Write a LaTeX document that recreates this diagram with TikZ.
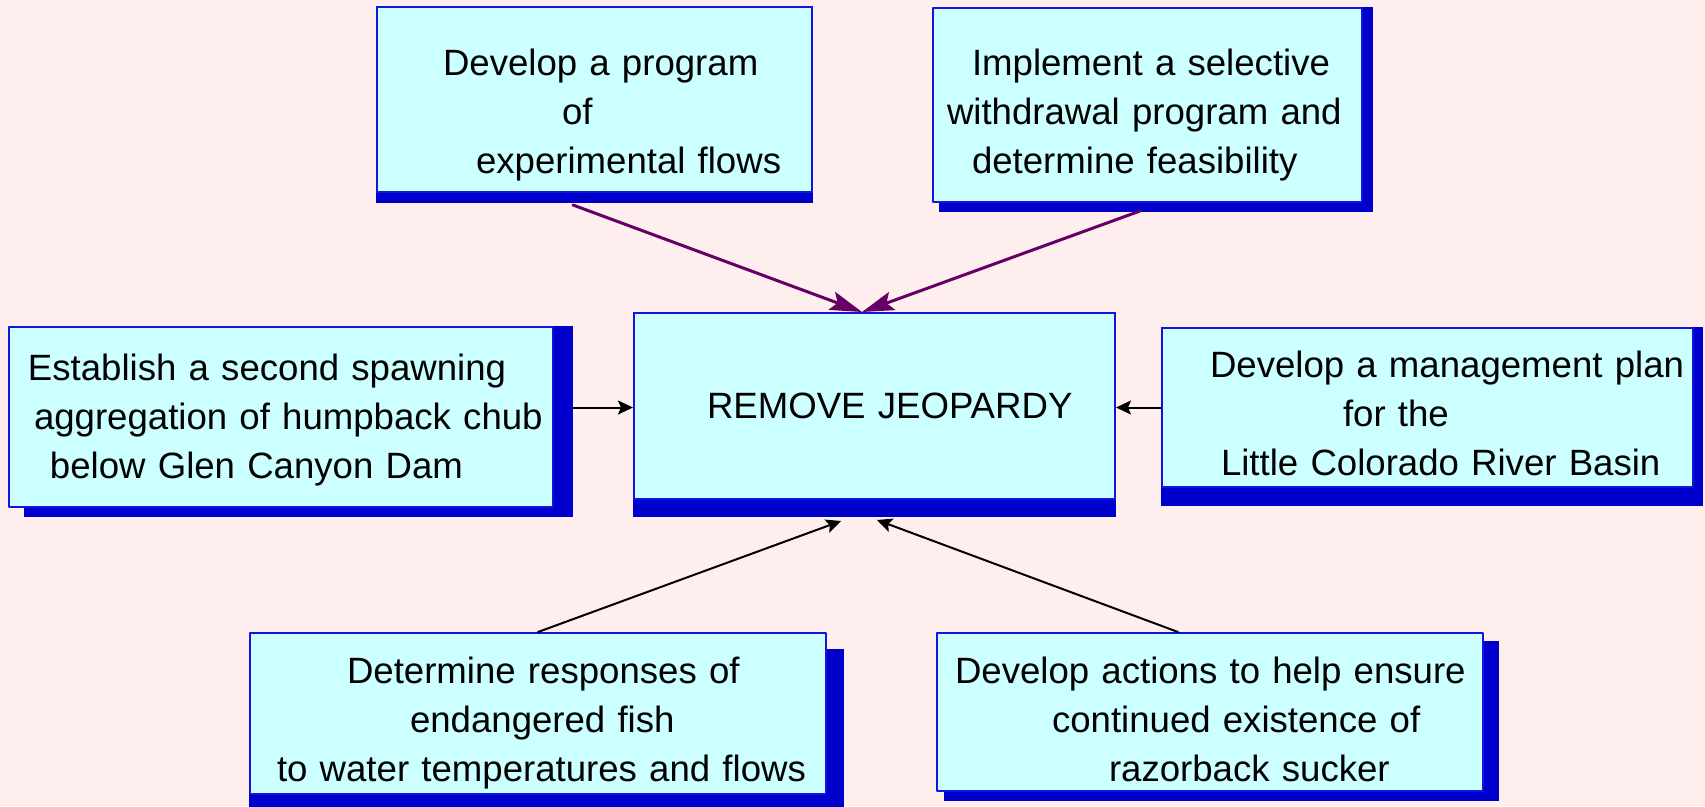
\documentclass[tikz,border=0pt]{standalone}
\usepackage{fontspec}
\setmainfont{Liberation Sans}
\usetikzlibrary{arrows.meta,backgrounds}
\definecolor{bgpink}{RGB}{255,238,238}
\definecolor{boxfill}{RGB}{204,255,255}
\definecolor{boxline}{RGB}{20,20,225}
\definecolor{shadowblue}{RGB}{0,0,204}
\definecolor{linkpurple}{RGB}{102,0,102}
\tikzset{
  goal/.style={draw=boxline,line width=2pt,fill=boxfill,inner sep=0pt,align=left,
    font=\fontsize{36.6pt}{49pt}\selectfont},
  feed/.style={line width=2pt,color=black,-{Stealth[length=15pt,width=14pt,inset=3pt]}},
  pfeed/.style={line width=3pt,color=linkpurple,-{Stealth[length=32pt,width=19pt,inset=6pt]}}
}
\newcommand{\lift}[1]{\rule{0pt}{#1pt}}
\begin{document}
\begin{tikzpicture}[x=1pt,y=-1pt,line cap=round,line join=round]
	\useasboundingbox (0,0) rectangle (1705,806);
	\node[goal,text width=435pt,minimum height=185pt] (prog) at (594.5,99.5)
		{\lift{57}\hspace*{66pt}Develop a program\\\hspace*{185pt}of\\\hspace*{99pt}experimental flows};
	\node[goal,text width=429pt,minimum height=194pt] (withdraw) at (1147.5,105)
		{\lift{46}\hspace*{39pt}Implement a selective\\\hspace*{14pt}\mbox{withdrawal program and}\\\hspace*{39pt}determine feasibility};
	\node[goal,text width=544pt,minimum height=180pt] (spawn) at (281,417)
		{\lift{32}\hspace*{19pt}Establish a second spawning\\\hspace*{25pt}\mbox{aggregation of humpback chub}\\\hspace*{41pt}below Glen Canyon Dam};
	\node[goal,text width=481pt,minimum height=186pt] (jeopardy) at (874.5,406)
		{\hspace*{73pt}REMOVE JEOPARDY};
	\node[goal,text width=531pt,minimum height=159pt] (basin) at (1427.5,407.5)
		{\lift{38}\hspace*{48pt}\mbox{Develop a management plan}\\\hspace*{181pt}for the\\\hspace*{59pt}\mbox{Little Colorado River Basin}};
	\node[goal,text width=576pt,minimum height=161pt] (temps) at (538,713.5)
		{\lift{46}\hspace*{97pt}Determine responses of\\\hspace*{160pt}endangered fish\\\hspace*{27pt}\mbox{to water temperatures and flows}};
	\node[goal,text width=546pt,minimum height=158pt] (sucker) at (1210,712)
		{\lift{42}\hspace*{18pt}\mbox{Develop actions to help ensure}\\\hspace*{115pt}continued existence of\\\hspace*{172pt}razorback sucker};
	\begin{scope}[on background layer]
		\fill[bgpink] (0,0) rectangle (1705,806);
		\fill[shadowblue] (prog.north west) rectangle ([yshift=-10pt]prog.south east);
		\fill[shadowblue] ([xshift=7pt]withdraw.north west) rectangle ([xshift=10pt,yshift=-9pt]withdraw.south east);
		\fill[shadowblue] ([xshift=16pt]spawn.north west) rectangle ([xshift=19pt,yshift=-9pt]spawn.south east);
		\fill[shadowblue] (jeopardy.north west) rectangle ([yshift=-17pt]jeopardy.south east);
		\fill[shadowblue] (basin.north west) rectangle ([xshift=9pt,yshift=-18pt]basin.south east);
		\fill[shadowblue] ([yshift=-17pt]temps.north west) rectangle ([xshift=17pt,yshift=-17pt]temps.south east);
		\fill[shadowblue] ([xshift=8pt,yshift=-9pt]sucker.north west) rectangle ([xshift=15pt,yshift=-9pt]sucker.south east);
	\end{scope}
	\coordinate (spawnout) at ([xshift=19pt]spawn.east);
	\draw[pfeed] ([xshift=-21.5pt,yshift=-12pt]prog.south) -- ([xshift=-12.5pt]jeopardy.north);
	\draw[pfeed] ([xshift=-7.5pt,yshift=-8pt]withdraw.south) -- ([xshift=-12.5pt]jeopardy.north);
	\draw[feed] (spawnout |- basin.west) -- (basin.west -| jeopardy.west);
	\draw[feed] (basin.west) -- (basin.west -| jeopardy.east);
	\draw[feed] (temps.north) -- ([xshift=-33.5pt,yshift=-21pt]jeopardy.south);
	\draw[feed] ([xshift=-32pt]sucker.north) -- ([xshift=2.5pt,yshift=-20pt]jeopardy.south);
\end{tikzpicture}
\end{document}
